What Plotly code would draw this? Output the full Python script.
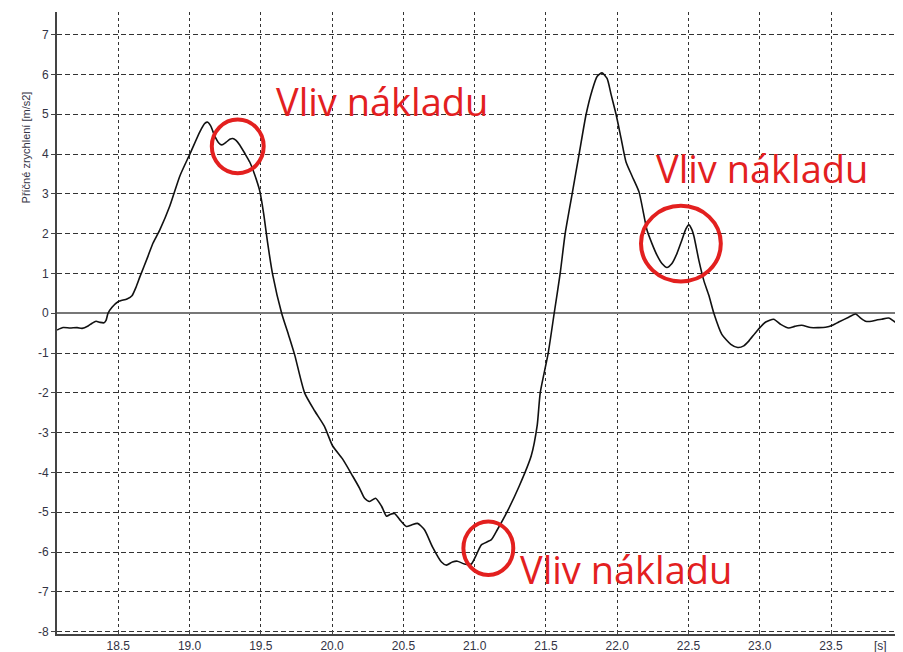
import plotly.graph_objects as go

# time [s]
t = [18.071, 18.113, 18.162, 18.211, 18.246, 18.288, 18.316, 18.344, 18.372, 18.400,
     18.414, 18.428, 18.456, 18.498, 18.561, 18.596, 18.624, 18.652, 18.708, 18.743,
     18.792, 18.862, 18.932, 19.002, 19.072, 19.107, 19.128, 19.149, 19.177, 19.205,
     19.226, 19.254, 19.282, 19.303, 19.324, 19.352, 19.387, 19.422, 19.457, 19.492,
     19.520, 19.548, 19.583, 19.646, 19.695, 19.737, 19.807, 19.877, 19.947, 20.003,
     20.073, 20.144, 20.193, 20.228, 20.263, 20.305, 20.347, 20.382, 20.410, 20.438,
     20.473, 20.522, 20.557, 20.599, 20.648, 20.704, 20.767, 20.802, 20.844, 20.879,
     20.928, 20.977, 21.012, 21.047, 21.117, 21.159, 21.222, 21.313, 21.397, 21.439,
     21.460, 21.516, 21.558, 21.600, 21.635, 21.684, 21.733, 21.782, 21.824, 21.859,
     21.894, 21.929, 21.957, 21.992, 22.027, 22.062, 22.104, 22.153, 22.209, 22.244,
     22.279, 22.314, 22.349, 22.384, 22.419, 22.454, 22.482, 22.503, 22.524, 22.538,
     22.573, 22.608, 22.643, 22.678, 22.734, 22.797, 22.846, 22.888, 22.923, 22.979,
     23.042, 23.098, 23.147, 23.203, 23.245, 23.294, 23.357, 23.413, 23.462, 23.511,
     23.554, 23.624, 23.673, 23.708, 23.743, 23.785, 23.820, 23.855, 23.904, 23.960]

# lateral acceleration [m/s2]
acc = [-0.42, -0.36, -0.37, -0.36, -0.38, -0.32, -0.25, -0.20, -0.23, -0.24,
       -0.18, 0.00, 0.15, 0.29, 0.36, 0.44, 0.65, 0.92, 1.43, 1.76,
       2.10, 2.70, 3.45, 4.00, 4.56, 4.77, 4.80, 4.70, 4.45, 4.28,
       4.23, 4.29, 4.37, 4.39, 4.35, 4.23, 4.02, 3.80, 3.48, 3.08,
       2.50, 1.76, 0.97, 0.00, -0.55, -1.04, -2.00, -2.45, -2.85, -3.33,
       -3.66, -4.09, -4.40, -4.65, -4.73, -4.65, -4.85, -5.10, -5.05, -5.03,
       -5.18, -5.36, -5.32, -5.28, -5.44, -5.87, -6.25, -6.33, -6.25, -6.23,
       -6.30, -6.30, -6.07, -5.82, -5.69, -5.44, -5.03, -4.34, -3.58, -2.81,
       -2.00, -1.00, 0.00, 1.00, 2.00, 3.00, 4.00, 5.00, 5.60, 5.95,
       6.04, 5.90, 5.50, 5.00, 4.40, 3.80, 3.45, 3.05, 2.09, 1.75,
       1.46, 1.25, 1.15, 1.25, 1.50, 1.84, 2.12, 2.22, 2.10, 1.94,
       1.33, 0.82, 0.45, 0.00, -0.53, -0.78, -0.86, -0.82, -0.70, -0.45,
       -0.22, -0.15, -0.28, -0.37, -0.33, -0.30, -0.36, -0.36, -0.35, -0.30,
       -0.22, -0.10, -0.02, -0.12, -0.20, -0.20, -0.17, -0.15, -0.12, -0.25]

x_ticks = [18.5, 19.0, 19.5, 20.0, 20.5, 21.0, 21.5, 22.0, 22.5, 23.0, 23.5]
x_ticklabels = ["18.5", "19.0", "19.5", "20.0", "20.5", "21.0", "21.5", "22.0", "22.5", "23.0", "23.5"]
y_ticks = [7, 6, 5, 4, 3, 2, 1, 0, -1, -2, -3, -4, -5, -6, -7, -8]
y_ticklabels = ["7", "6", "5", "4", "3", "2", "1", "0", "-1", "-2", "-3", "-4", "-5", "-6", "-7", "-8"]

note_text = "Vliv nákladu"
note_x = [20.347, 23.015, 22.062]
note_y = [5.33, 3.65, -6.43]
circle_x0 = [19.156, 22.167, 20.921]
circle_x1 = [19.520, 22.727, 21.271]
circle_y0 = [3.52, 0.80, -6.58]
circle_y1 = [4.87, 2.70, -5.23]

RED = "#e3201f"
TXT = "#333344"

fig = go.Figure()
fig.add_trace(go.Scatter(x=t, y=acc, mode="lines",
                         line=dict(color="#111111", width=1.6, shape="spline", smoothing=0.6),
                         showlegend=False, hoverinfo="skip"))

for x0, x1, y0, y1 in zip(circle_x0, circle_x1, circle_y0, circle_y1):
    fig.add_shape(type="circle", xref="x", yref="y", x0=x0, x1=x1, y0=y0, y1=y1,
                  line=dict(color=RED, width=4))

for nx, ny in zip(note_x, note_y):
    fig.add_annotation(x=nx, y=ny, xref="x", yref="y", text=note_text, showarrow=False,
                       font=dict(family="Open Sans, sans-serif", size=38, color=RED))

fig.add_annotation(x=-0.046, y=0.876, xref="paper", yref="paper", text="Příčné zrychlení [m/s2]",
                   textangle=-90, showarrow=False,
                   font=dict(family="Liberation Sans, Arial", size=11, color=TXT))
fig.add_annotation(x=0.989, y=0.0, xref="paper", yref="paper", yanchor="top", yshift=-3,
                   text="[s]", showarrow=False,
                   font=dict(family="Liberation Sans, Arial", size=12, color=TXT))

fig.update_xaxes(range=[18.07, 23.97], tickvals=x_ticks, ticktext=x_ticklabels,
                 automargin=False,
                 showgrid=True, gridcolor="#333333", gridwidth=1, griddash="3px,3px",
                 showline=True, linecolor="#444444", linewidth=2,
                 ticks="inside", ticklen=3, tickcolor="#444444",
                 zeroline=False,
                 tickfont=dict(family="Liberation Sans, Arial", size=12, color=TXT))
fig.update_yaxes(range=[-8.06, 7.57], tickvals=y_ticks, ticktext=y_ticklabels,
                 automargin=False,
                 showgrid=True, gridcolor="#333333", gridwidth=1, griddash="5px,3px",
                 showline=True, linecolor="#444444", linewidth=2,
                 ticks="outside", ticklen=4, tickcolor="#444444",
                 zeroline=True, zerolinecolor="#777777", zerolinewidth=2,
                 tickfont=dict(family="Liberation Sans, Arial", size=12, color=TXT))

# page body adds an 8px offset, so the figure is 8px smaller and margins compensate
fig.update_layout(width=895, height=644, margin=dict(l=49, r=5, t=4, b=18, autoexpand=False),
                  plot_bgcolor="white", paper_bgcolor="white", showlegend=False)

fig.write_html("out.html")
